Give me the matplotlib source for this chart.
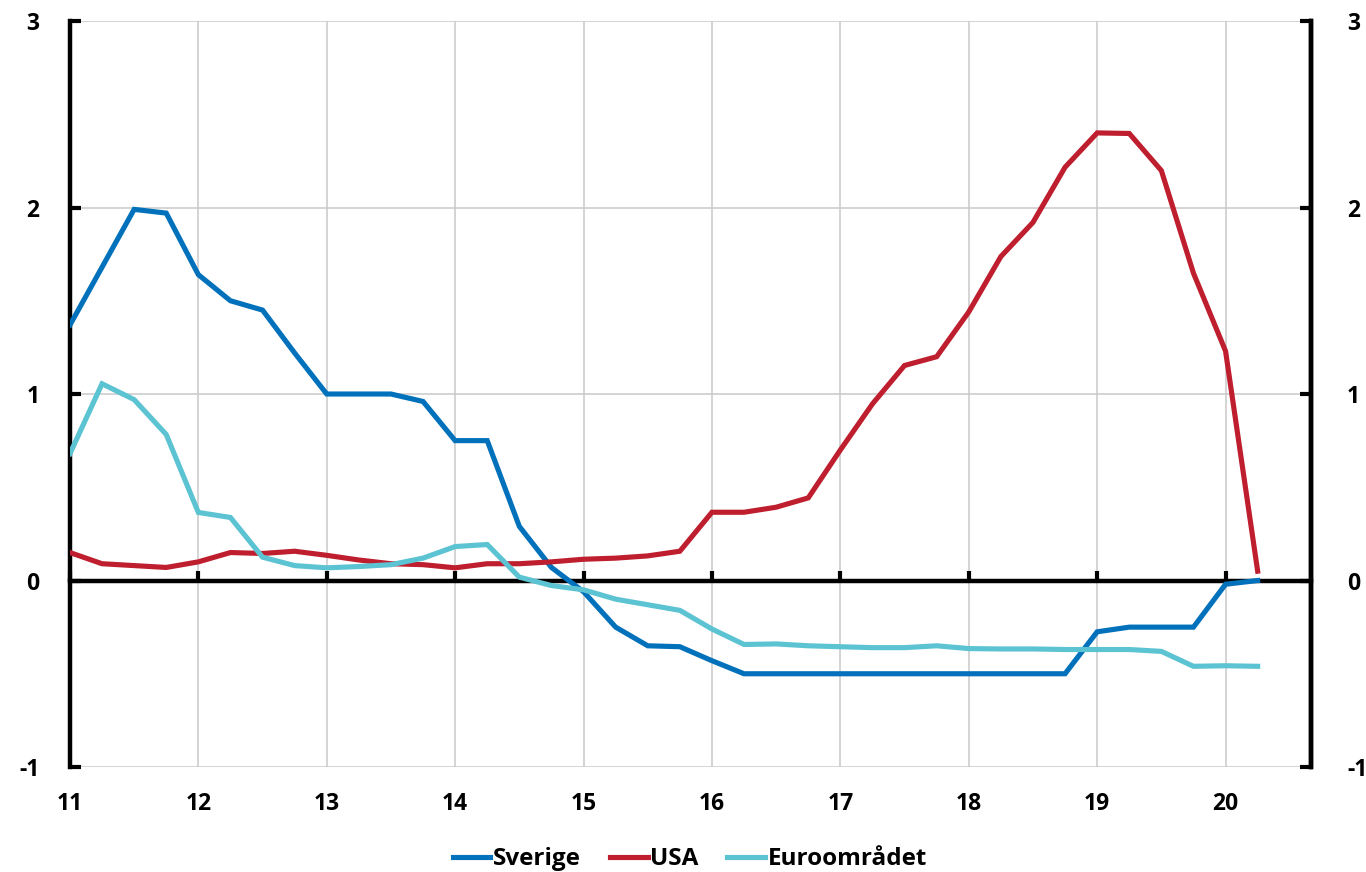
import numpy as np
import matplotlib
matplotlib.use("Agg")
import matplotlib.pyplot as plt

plt.rcParams['font.family'] = ['Open Sans', 'DejaVu Sans']
plt.rcParams['font.weight'] = 'bold'

# Quarterly observations, 2011 Q1 - 2020 Q2 (x in two-digit years)
start_year = 11
n_quarters = 38
periods = start_year + np.arange(n_quarters) / 4

sverige = [1.37, 1.68, 1.99, 1.97, 1.64, 1.50, 1.45, 1.22,
           1.00, 1.00, 1.00, 0.96, 0.75, 0.75, 0.29, 0.07,
           -0.06, -0.25, -0.35, -0.355, -0.43, -0.50, -0.50, -0.50,
           -0.50, -0.50, -0.50, -0.50, -0.50, -0.50, -0.50, -0.50,
           -0.275, -0.25, -0.25, -0.25, -0.02, 0.00]

usa = [0.15, 0.09, 0.08, 0.07, 0.10, 0.15, 0.145, 0.157,
       0.135, 0.11, 0.09, 0.085, 0.068, 0.09, 0.09, 0.10,
       0.114, 0.12, 0.132, 0.157, 0.366, 0.366, 0.393, 0.443,
       0.70, 0.947, 1.153, 1.20, 1.44, 1.737, 1.92, 2.216,
       2.40, 2.397, 2.198, 1.648, 1.23, 0.05]

euro = [0.68, 1.055, 0.97, 0.783, 0.365, 0.338, 0.125, 0.08,
        0.068, 0.075, 0.085, 0.12, 0.182, 0.193, 0.018, -0.027,
        -0.05, -0.10, -0.13, -0.16, -0.26, -0.343, -0.34, -0.35,
        -0.355, -0.36, -0.36, -0.35, -0.365, -0.367, -0.367, -0.37,
        -0.37, -0.37, -0.38, -0.46, -0.457, -0.46]

series_names = ['Sverige', 'USA', 'Euroområdet']
series_colors = ['#0071BA', '#BE1E2D', '#5BC3D2']

year_ticks = list(range(11, 21))
y_ticks = [-1, 0, 1, 2, 3]

label_font = {'size': 16.5, 'weight': 'bold'}

fig = plt.figure(figsize=(13.66, 8.72), dpi=100)
ax = fig.add_axes([0.0512, 0.1204, 0.9085, 0.8555])

for vals, name, col in zip([sverige, usa, euro], series_names, series_colors):
    ax.plot(periods, vals, color=col, lw=3.7, label=name,
            solid_joinstyle='miter', zorder=3)

ax.set_xlim(11, 20.665)
ax.set_ylim(-1, 3)

# grid
ax.set_xticks(year_ticks)
ax.set_yticks(y_ticks)
ax.set_yticklabels([str(v) for v in y_ticks], fontdict=label_font)
ax.grid(True, color='#c9c9c9', lw=1.1, zorder=0)
ax.set_axisbelow(True)

# zero line acts as the x axis, with inward year ticks
ax.spines['bottom'].set_position(('data', 0))
ax.spines['bottom'].set_linewidth(3.2)
ax.spines['bottom'].set_zorder(2.5)
ax.spines['top'].set_visible(False)
ax.spines['left'].set_linewidth(3.2)
ax.spines['right'].set_linewidth(3.2)
ax.tick_params(axis='x', direction='in', length=7, width=3,
               labelbottom=False)
ax.tick_params(axis='y', direction='in', length=8, width=3, pad=22)

# year labels below the plot
sec = ax.secondary_xaxis('bottom')
sec.set_xticks(year_ticks)
sec.set_xticklabels([str(y) for y in year_ticks], fontdict=label_font)
sec.tick_params(length=0, pad=18)
sec.spines['bottom'].set_visible(False)

# right-hand axis mirroring the left
ax2 = ax.twinx()
ax2.set_ylim(ax.get_ylim())
ax2.set_yticks(y_ticks)
ax2.set_yticklabels([str(v) for v in y_ticks], fontdict=label_font)
ax2.tick_params(axis='y', direction='in', length=8, width=3, pad=26)
for s in ['top', 'bottom', 'left']:
    ax2.spines[s].set_visible(False)
ax2.spines['right'].set_linewidth(3.2)

leg = fig.legend(*ax.get_legend_handles_labels(), loc='lower center',
                 bbox_to_anchor=(0.505, -0.024), ncol=3, frameon=False,
                 handlelength=1.55, handletextpad=0.1, columnspacing=1.2,
                 prop={'size': 17.5, 'weight': 'bold'})

fig.savefig('out.png', dpi=100)
